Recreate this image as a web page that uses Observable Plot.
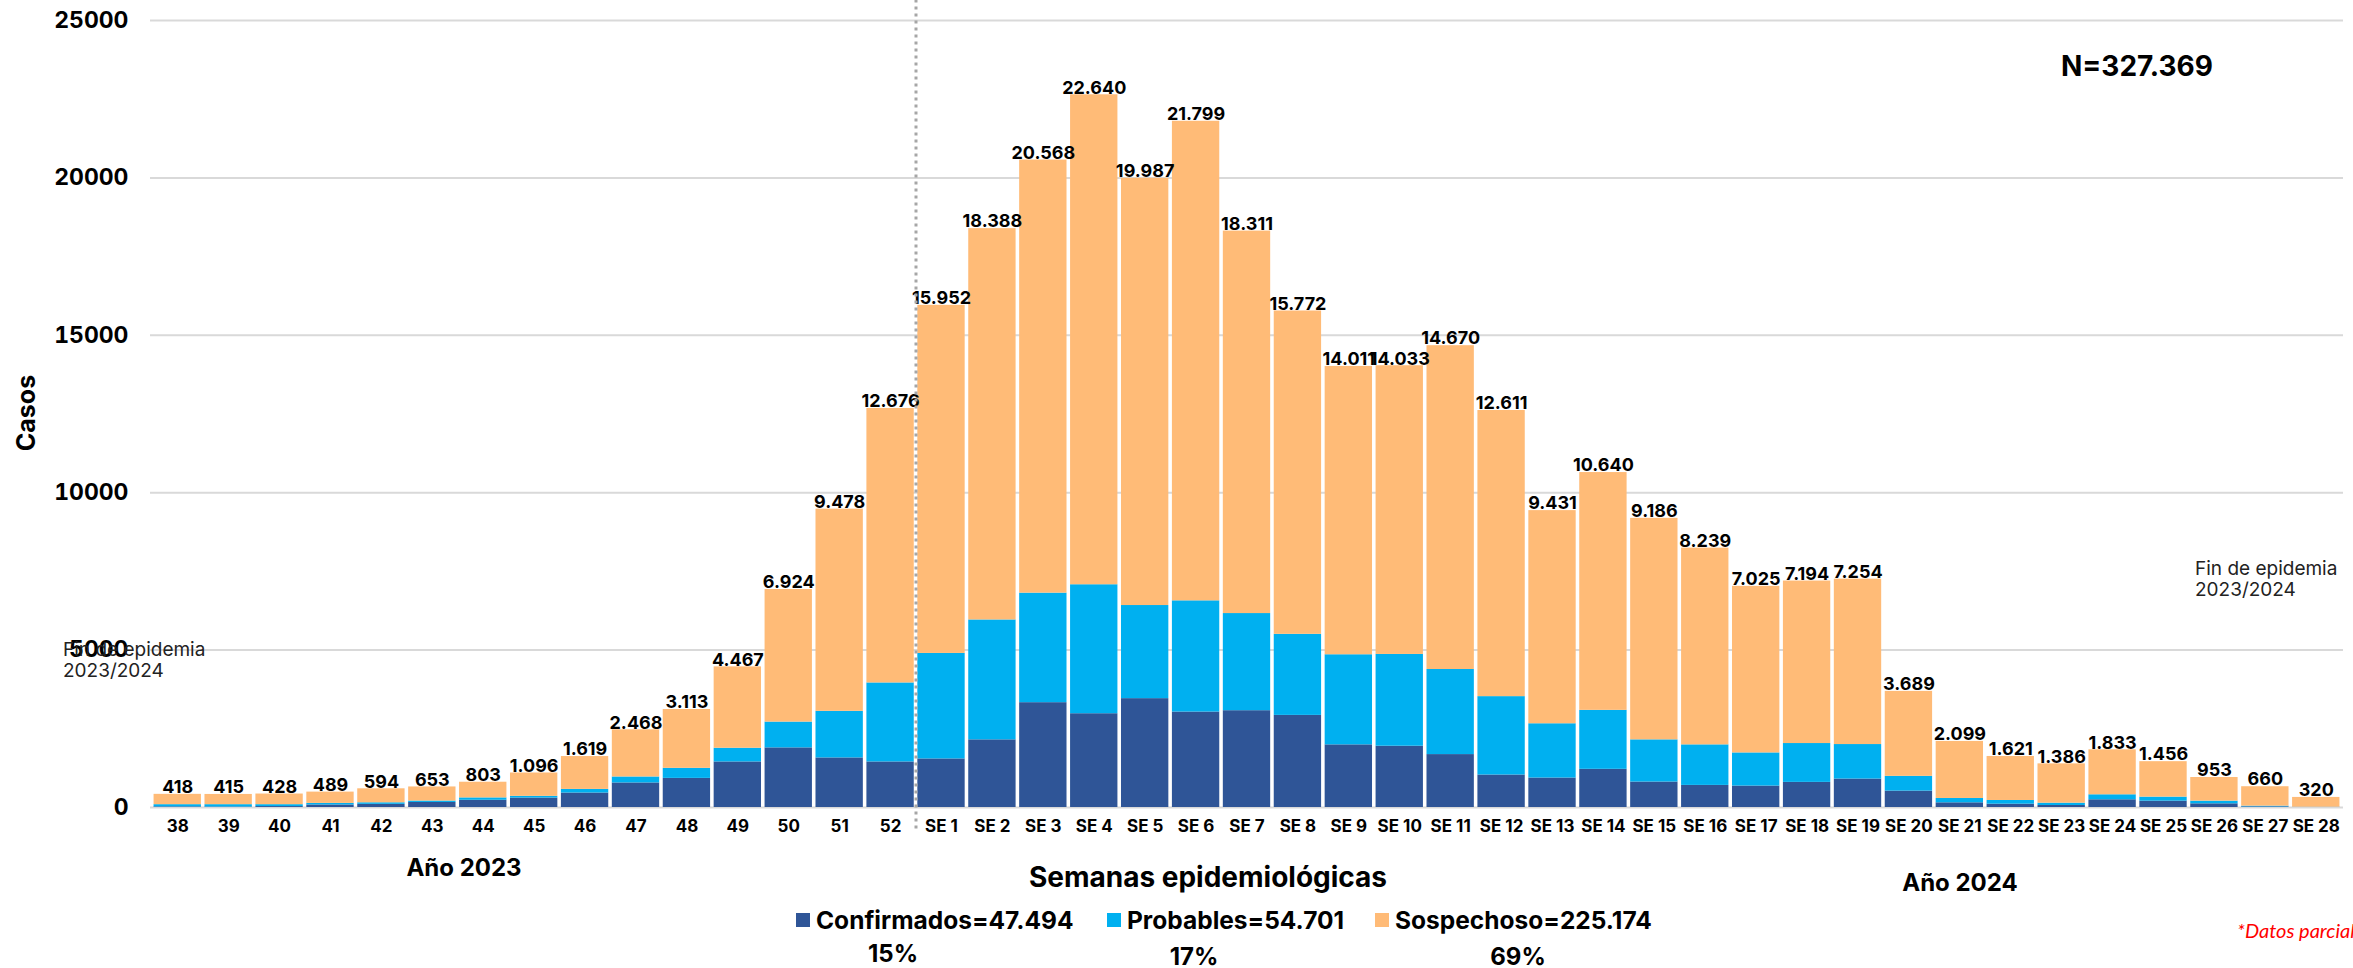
<!DOCTYPE html>
<html>
<head>
<meta charset="utf-8">
<script src="https://cdn.jsdelivr.net/npm/d3@7"></script>
<script src="https://cdn.jsdelivr.net/npm/@observablehq/plot@0.6"></script>
<style>
  html, body { margin: 0; padding: 0; background: #ffffff; }
  body { width: 2353px; height: 968px; overflow: hidden; position: relative; font-family: Inter, "Open Sans", sans-serif; }
  #chart { position: absolute; left: 0; top: 0; }
  .t { position: absolute; white-space: nowrap; color: #000; line-height: 1; }
  .c { transform: translate(-50%, -50%); }
  .b { font-weight: 700; }
  .note { font-size: 19px; font-weight: 400; color: #222; line-height: 21px; }
  .leg { position: absolute; display: flex; align-items: center; white-space: nowrap; font-weight: 700; font-size: 24.5px; transform: translateY(-50%); }
  .sw { width: 14px; height: 14px; margin-right: 6px; display: inline-block; }
</style>
</head>
<body>
<div id="chart"></div>
<script>
// ---- data ----
const weeks = ["38","39","40","41","42","43","44","45","46","47","48","49","50","51","52",
  "SE 1","SE 2","SE 3","SE 4","SE 5","SE 6","SE 7","SE 8","SE 9","SE 10",
  "SE 11","SE 12","SE 13","SE 14","SE 15","SE 16","SE 17","SE 18","SE 19","SE 20",
  "SE 21","SE 22","SE 23","SE 24","SE 25","SE 26","SE 27","SE 28"];

const totals = [418,415,428,489,594,653,803,1096,1619,2468,3113,4467,6924,9478,12676,
  15952,18388,20568,22640,19987,21799,18311,15772,14011,14033,
  14670,12611,9431,10640,9186,8239,7025,7194,7254,3689,
  2099,1621,1386,1833,1456,953,660,320];

const confirmados = [20,15,30,80,100,160,230,300,460,780,925,1447,1894,1575,1447,
  1543,2149,3330,2979,3458,3032,3075,2926,1990,1947,
  1681,1032,936,1213,809,702,681,798,904,521,
  149,106,64,245,202,117,21,5];

const probables = [70,75,60,50,50,45,75,55,115,190,320,436,820,1480,2510,
  3351,3809,3480,4097,2958,3533,3086,2575,2862,2915,
  2703,2490,1724,1873,1340,1288,1053,1234,1096,469,
  138,117,74,159,128,85,22,5];

const sospechosos = [328,325,338,359,444,448,498,741,1044,1498,1868,2584,4210,6423,8719,
  11058,12430,13758,15564,13571,15234,12150,10271,9159,9171,
  10286,9089,6771,7554,7037,6249,5291,5162,5254,2699,
  1812,1398,1248,1429,1126,751,617,310];

const seriesNames = ["Confirmados","Probables","Sospechoso"];
const seriesColors = ["#2F5597","#00B0F0","#FFBB77"];
const yTicks = [0,5000,10000,15000,20000,25000];

const legendItems = [
  {name:"Confirmados", total:"47.494", pct:"15%"},
  {name:"Probables", total:"54.701", pct:"17%"},
  {name:"Sospechoso", total:"225.174", pct:"69%"}
];
const nTotal = "327.369";

// ---- build ----
const rows = weeks.flatMap((w, i) => [
  {week: w, serie: "Confirmados", value: confirmados[i]},
  {week: w, serie: "Probables", value: probables[i]},
  {week: w, serie: "Sospechoso", value: sospechosos[i]}
]);
const labelRows = weeks.map((w, i) => ({week: w, total: totals[i]}));
const esFmt = d3.formatLocale({decimal: ",", thousands: ".", grouping: [3], currency: ["", ""]}).format(",d");

const chart = Plot.plot({
  width: 2353,
  height: 968,
  marginLeft: 150,
  marginRight: 10,
  marginTop: 20,
  marginBottom: 161,
  style: {fontFamily: "Inter, 'Open Sans', sans-serif", background: "transparent", overflow: "visible", color: "#000"},
  x: {domain: weeks, padding: 0.07, label: null},
  y: {domain: [0, 25000], label: null},
  color: {domain: seriesNames, range: seriesColors},
  marks: [
    Plot.gridY(yTicks, {stroke: "#d9d9d9", strokeOpacity: 1, strokeWidth: 2}),
    Plot.axisY(yTicks, {tickSize: 0, tickPadding: 22, tickFormat: d3.format("d"), fontSize: 23, fontWeight: "bold", label: null}),
    Plot.axisX({tickSize: 0, tickPadding: 12, fontSize: 17, fontWeight: "bold", label: null}),
    Plot.barY(rows, {x: "week", y: "value", fill: "serie", order: seriesNames}),
    Plot.text(labelRows, {x: "week", y: "total", text: d => esFmt(d.total), dy: -7, lineAnchor: "middle",
      fontSize: 18, fontWeight: "bold", fill: "#000"}),
    Plot.ruleX(["SE 1"], {dx: -25.5, y1: 25650, y2: -730, stroke: "#a6a6a6", strokeWidth: 3, strokeDasharray: "3,4"})
  ]
});
document.getElementById("chart").appendChild(chart);

// ---- annotations ----
function addText(html, cls, x, y, extra) {
  const d = document.createElement("div");
  d.className = "t " + cls;
  d.innerHTML = html;
  d.style.left = x + "px";
  d.style.top = y + "px";
  if (extra) Object.assign(d.style, extra);
  document.body.appendChild(d);
  return d;
}
addText("Casos", "c b", 26, 413, {transform: "translate(-50%,-50%) rotate(-90deg)", fontSize: "25px"});
addText("N=" + nTotal, "c b", 2137, 66, {fontSize: "28px"});
addText("Año 2023", "c b", 464, 868, {fontSize: "24px"});
addText("Año 2024", "c b", 1960, 883, {fontSize: "24px"});
addText("Semanas epidemiológicas", "c b", 1208, 877, {fontSize: "28px"});
addText("Fin de epidemia<br>2023/2024", "note", 63, 639);
addText("Fin de epidemia<br>2023/2024", "note", 2195, 558);
addText("*Datos parciales", "", 2237, 930, {fontFamily: "Lato, sans-serif", fontStyle: "italic", fontSize: "20px", color: "#ff0000", transform: "translateY(-50%)"});

const legendX = [796, 1107, 1375];
const pctX = [893, 1194, 1518];
const pctY = [954, 957, 957];
legendItems.forEach((it, i) => {
  const d = document.createElement("div");
  d.className = "leg";
  d.style.left = legendX[i] + "px";
  d.style.top = "920px";
  d.innerHTML = `<span class="sw" style="background:${seriesColors[i]}"></span><span>${it.name}=${it.total}</span>`;
  document.body.appendChild(d);
  addText(it.pct, "c b", pctX[i], pctY[i], {fontSize: "24px"});
});
</script>
</body>
</html>
